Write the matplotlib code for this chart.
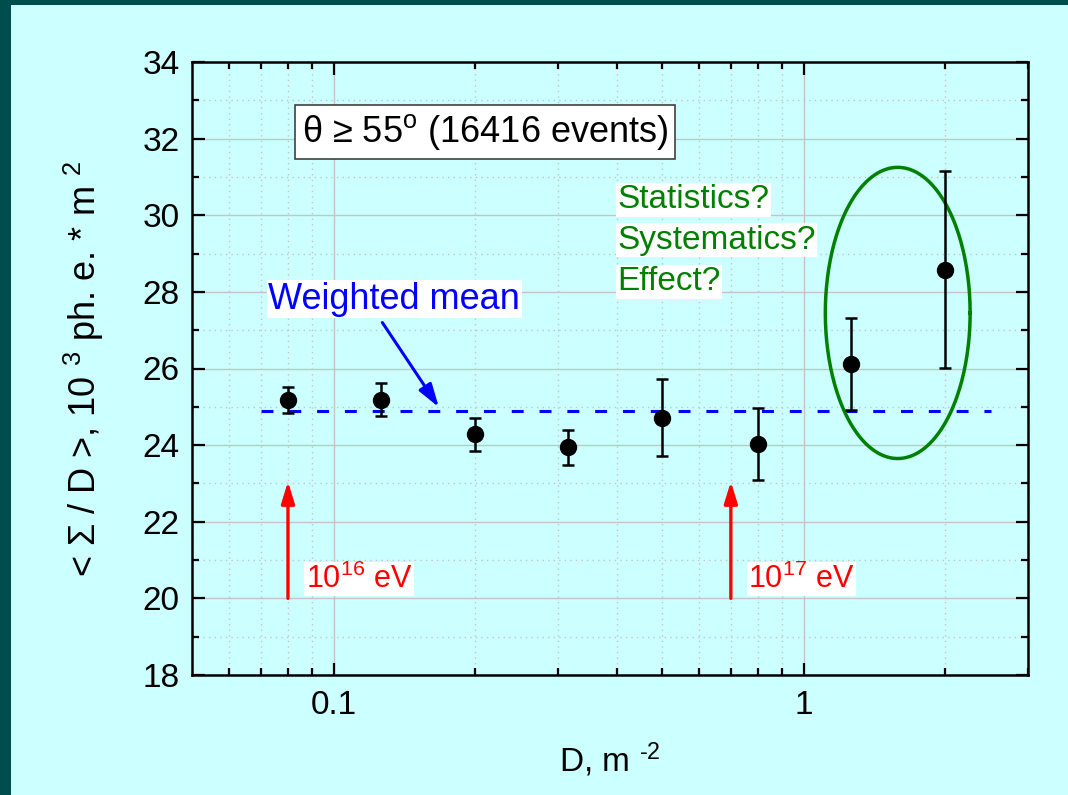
import numpy as np
import matplotlib
matplotlib.use("Agg")
import matplotlib.pyplot as plt
from matplotlib.ticker import FixedLocator, MultipleLocator, NullFormatter, FixedFormatter
from matplotlib.patches import Rectangle

plt.rcParams['font.family'] = ['Liberation Sans', 'DejaVu Sans']
plt.rcParams['mathtext.fontset'] = 'custom'
plt.rcParams['mathtext.rm'] = 'Liberation Sans'
plt.rcParams['mathtext.it'] = 'Liberation Sans:italic'

# data
D = [0.08, 0.126, 0.2, 0.316, 0.5, 0.8, 1.26, 2.0]
sigma_D = [25.18, 25.19, 24.28, 23.94, 24.72, 24.03, 26.11, 28.58]
err = [0.35, 0.42, 0.44, 0.45, 1.0, 0.95, 1.2, 2.57]
mean_val = 24.89
mean_range = [0.07, 2.5]

energy_D = [0.08, 0.70]
energy_labels = ['10$^{16}$ eV', '10$^{17}$ eV']
questions = ['Statistics?', 'Systematics?', 'Effect?']

# ellipse around the last two points (log-x centre, half-width in decades)
ell_cx, ell_cy, ell_a, ell_b = 1.585, 27.45, 0.154, 3.8

fig = plt.figure(figsize=(10.68, 7.95), dpi=100)
fig.patch.set_facecolor('#004d4d')
fig.add_artist(Rectangle((11 / 1068, 0), 1, 1 - 5 / 795, transform=fig.transFigure,
                         facecolor='#ccffff', edgecolor='none', zorder=-5))
ax = fig.add_axes([192 / 1068, 120 / 795, 836 / 1068, 613 / 795])
ax.set_zorder(2)
ax.set_facecolor('#ccffff')

ax.set_xscale('log')
ax.set_xlim(0.05, 3.0)
ax.set_ylim(18, 34)

ax.xaxis.set_major_locator(FixedLocator([0.1, 1]))
ax.xaxis.set_major_formatter(FixedFormatter(['0.1', '1']))
ax.xaxis.set_minor_locator(FixedLocator([0.06, 0.07, 0.08, 0.09, 0.2, 0.3, 0.4, 0.5,
                                         0.6, 0.7, 0.8, 0.9, 2, 3]))
ax.xaxis.set_minor_formatter(NullFormatter())
ax.yaxis.set_major_locator(MultipleLocator(2))
ax.yaxis.set_minor_locator(MultipleLocator(1))

ax.tick_params(which='both', direction='in', top=True, right=True, labelsize=24)
ax.tick_params(which='major', length=9, width=1.6, pad=9)
ax.tick_params(which='minor', length=5, width=1.6)
ax.tick_params(axis='x', which='major', pad=11)
for s in ax.spines.values():
    s.set_linewidth(1.8)

ax.grid(True, which='major', color='#c4c4c4', lw=1.0, ls='-')
ax.grid(True, which='minor', color='#c4c4c4', lw=1.0, ls=(0, (1, 3)))
ax.set_axisbelow(True)

ax.set_xlabel('D, m $^{\u2010 2}$', fontsize=24, labelpad=14)
ax.set_ylabel('< Σ / D >, 10 $^{3}$ ph. e. * m $^{2}$', fontsize=26, labelpad=26)

# weighted mean
ax.plot(mean_range, [mean_val, mean_val], color='#0000ff', lw=2.2, dashes=(3.9, 5.2), zorder=3)
ax.annotate('', xy=(0.1675, 24.99), xytext=(0.127, 27.2),
            arrowprops=dict(arrowstyle='-|>,head_length=0.7,head_width=0.22',
                            color='#0000ff', lw=2.2, mutation_scale=20,
                            shrinkA=0, shrinkB=0), zorder=4)
ax.text(0.0727, 27.81, 'Weighted mean', color='#0000ff', fontsize=26, va='center',
        ha='left', bbox=dict(facecolor='white', edgecolor='none', pad=1), zorder=5)

# data points
ax.errorbar(D, sigma_D, yerr=err, fmt='o', color='black', ms=11.5, elinewidth=1.8,
            capsize=4, capthick=1.8, zorder=6)

# energy arrows
for xe, lab in zip(energy_D, energy_labels):
    ax.annotate('', xy=(xe, 23.05), xytext=(xe, 20),
                arrowprops=dict(arrowstyle='-|>,head_length=0.65,head_width=0.2',
                                color='#ff0000', lw=2.4, mutation_scale=20,
                                shrinkA=0, shrinkB=0), zorder=4)
    ax.text(xe * 1.09, 20.5, lab, color='#ff0000', fontsize=22, va='center', ha='left',
            bbox=dict(facecolor='white', edgecolor='none', pad=1), zorder=5)

# title box
ax.text(0.21, 32.17, 'θ ≥ 55$^{\\mathrm{o}}$ (16416 events)', fontsize=26, ha='center',
        va='center', bbox=dict(facecolor='white', edgecolor='#404040', lw=1.2, pad=5), zorder=5)

# questions
q_y = [30.40, 29.35, 28.26]
for q, yq in zip(questions, q_y):
    ax.text(0.402, yq, q, color='#008000', fontsize=24, ha='left', va='center',
            bbox=dict(facecolor='white', edgecolor='none', pad=1), zorder=5)

t = np.linspace(0, 2 * np.pi, 300)
ax.plot(10 ** (np.log10(ell_cx) + ell_a * np.cos(t)), ell_cy + ell_b * np.sin(t),
        color='#008000', lw=2.5, zorder=5)

fig.savefig('out.png', dpi=100, facecolor=fig.get_facecolor())
